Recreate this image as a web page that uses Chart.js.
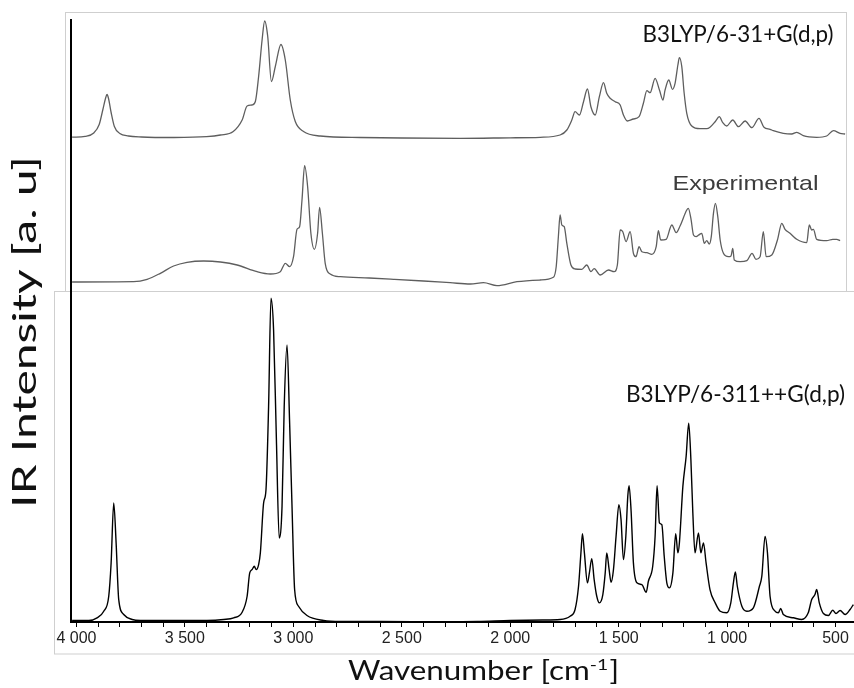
<!DOCTYPE html>
<html>
<head>
<meta charset="utf-8">
<script src="https://cdn.jsdelivr.net/npm/chart.js@4.4.1/dist/chart.umd.min.js"></script>
<style>
html,body{margin:0;padding:0;background:#fff;}
canvas{display:block;}
</style>
</head>
<body>
<canvas id="c" width="854" height="688"></canvas>
<script>
// ---- Data (wavenumber in cm-1, intensity in a.u.) ----
const calc631Wn = [4020,3960,3920,3895,3878,3866,3859,3852,3840,3825,3800,3760,3700,3550,3400,3336,3277,3236,3213,3190,3175,3160,3144,3132,3118,3101,3083,3057,3037,3014,2991,2953,2876,2691,2500,2230,2000,1862,1770,1739,1716,1701,1681,1662,1644,1628,1608,1589,1570,1555,1539,1516,1493,1478,1460,1432,1406,1386,1370,1355,1332,1312,1296,1286,1269,1252,1240,1227,1220,1209,1198,1186,1163,1125,1094,1079,1055,1036,1020,1002,974,948,917,886,853,830,802,787,741,702,679,649,587,541,510,479,456];
const calc631Int = [0.3,1.2,4.5,13,28,39,43,39,25,11,4,1.5,0.5,0,0.8,2.5,6,17.5,31.5,32.5,36,61,97.5,116.5,101,56,71,93,77.5,37.5,16,6,1.5,0,-0.5,-0.8,-0.3,0.2,2.5,7.5,17.5,25.8,22.5,35.8,48.5,30.8,22.5,40.8,54.8,44.2,39.2,35.8,32.5,22.5,16.5,18.5,20.8,34.2,46.8,44.8,59.2,47.5,37.5,47.5,57.5,48.2,54.2,72.5,79.8,70.8,44.2,24.2,11.5,8.8,8.8,10.2,15.8,20.8,14.8,11.5,17.5,10.8,16.5,9.8,19.2,10.2,8.2,6.8,4.2,3.5,5.2,1.8,0.2,1.5,6.8,4.2,3.5];

const exptWn = [4020,3736,3674,3613,3552,3490,3413,3336,3259,3167,3106,3060,3037,3017,2999,2983,2971,2960,2948,2934,2919,2903,2888,2879,2866,2853,2830,2783,2650,2538,2400,2277,2184,2123,2061,1969,1862,1801,1788,1778,1770,1762,1751,1739,1720,1701,1670,1647,1628,1613,1585,1547,1521,1506,1493,1481,1466,1447,1432,1420,1406,1393,1370,1347,1327,1317,1306,1281,1255,1235,1217,1186,1179,1167,1155,1143,1131,1117,1105,1094,1082,1073,1063,1054,1043,1032,1017,994,982,974,967,940,909,885,867,848,833,820,794,768,748,733,710,679,633,621,610,602,587,541,513,495,479];
const exptInt = [0,0.3,2.7,8.7,16,19.7,21,20,17,10.3,8,10.3,18.7,15.3,25.3,52.7,55.3,82,116.3,95.3,48.7,32.7,48.7,74.7,48.7,18.7,8,5.3,4,2.7,1,-0.7,-2,-0.7,-3.7,0.3,2,4.7,15.3,45.3,67,57,55.3,38.7,17,13,12.7,17,10.3,13.3,7,12,10.3,17,52,50.3,40.3,50.3,28.7,25.3,35.3,30.3,29.3,27.7,35.3,51.3,42,42.7,57,49.3,56,72,73.7,63.7,47,45.3,47,48.7,38.7,41.3,38,45.3,68.7,78.7,65.3,42,28.7,25.3,26,33.7,22,20.3,21.3,28.7,22.7,25.3,50.3,25.3,27,42,58.7,52.7,48.7,42.7,39.3,57,52,52.7,42.7,41.3,42.7,42.7,41.3];

const calc6311Wn = [4020,3943,3905,3874,3851,3840,3828,3817,3805,3782,3743,3705,3398,3321,3275,3236,3213,3201,3190,3180,3171,3160,3152,3137,3126,3114,3103,3091,3078,3065,3052,3042,3029,3017,3006,2994,2976,2937,2860,2783,2600,2300,2150,2000,1850,1770,1724,1701,1685,1674,1667,1658,1644,1635,1624,1613,1601,1589,1573,1562,1555,1544,1535,1524,1512,1499,1489,1478,1467,1458,1452,1443,1432,1416,1393,1373,1363,1343,1332,1323,1312,1301,1290,1278,1266,1250,1237,1227,1220,1204,1189,1177,1167,1158,1148,1132,1121,1109,1097,1079,1055,1032,1002,983,971,962,953,932,909,879,851,840,825,814,802,779,764,753,741,695,656,626,610,595,587,575,556,533,513,498,479,456,433,418];
const calc6311Int = [0,0,2.7,9.3,24.3,57.7,117.7,77.7,21,6,1,0,0,1,2.7,8.3,24.3,47.7,51,54.3,51,56,67.7,117.7,131,214.3,322.7,291,181,82.7,114.3,214.3,276,197.7,114.3,31,14.3,5,0,-1,-1,-1.3,-1,0,0.5,1,4.3,11,34.3,67.7,87,67.7,37.7,47.7,62,41,24.3,17.7,26,47.7,67.7,51,38.3,51,84.3,116,101,61,84.3,124.3,135,111,57.7,37.7,36,28.3,39.3,54.3,84.3,135,97.7,96,64.3,37.7,32.7,47.7,87,67.7,77.7,134.3,164.3,197.7,161,107.7,67.7,87.7,67.7,77.7,57.7,31,17.7,9.3,7.7,17.7,37.7,48.7,34.3,14.3,9.3,12.7,34.3,44.3,84.3,67.7,24.3,9.3,7.7,12,6,2.7,1,7.7,21,26,31,17.7,7,5,10.3,7,10,6,11,16];

const majorTicks = [4000,3500,3000,2500,2000,1500,1000,500];
const minorStep = 100;
const seriesNames = ['B3LYP/6-31+G(d,p)', 'Experimental', 'B3LYP/6-311++G(d,p)'];
const xTitleMain = 'Wavenumber [cm';
const xTitleSup = '-1';
const xTitleEnd = ']';
const yTitle = 'IR Intensity [a. u]';

function pairs(wn, val) { return wn.map((w, i) => ({x: w, y: val[i]})); }
function fmtTick(v) {
  if (v >= 1000) { const t = Math.floor(v / 1000); const r = String(v % 1000).padStart(3, '0'); return t + ' ' + r; }
  return String(v);
}
function tickLabel(value) {
  const r = Math.round(Number(value));
  return majorTicks.indexOf(r) >= 0 ? fmtTick(r) : '';
}

function drawFit(ctx, text, font, x, y, width, color) {
  ctx.save();
  ctx.font = font;
  const w = ctx.measureText(text).width;
  ctx.translate(x, y);
  ctx.scale(width / w, 1);
  ctx.fillStyle = color;
  ctx.textAlign = 'left';
  ctx.textBaseline = 'alphabetic';
  ctx.fillText(text, 0, 0);
  ctx.restore();
}

const decor = {
  id: 'decor',
  beforeDraw(chart) {
    const ctx = chart.ctx;
    ctx.save();
    ctx.strokeStyle = '#cfcfcf';
    ctx.lineWidth = 1;
    ctx.strokeRect(54.5, 291.5, 820, 362.5);
    ctx.strokeRect(65.5, 12.5, 781, 279);
    ctx.restore();
  },
  afterDraw(chart) {
    const ctx = chart.ctx;
    drawFit(ctx, seriesNames[0], '23px Lato', 642.5, 41.5, 191, '#111');
    drawFit(ctx, seriesNames[1], '21px "Liberation Sans"', 672.5, 190, 146, '#3c3c3c');
    drawFit(ctx, seriesNames[2], '23px Lato', 626, 401.5, 219, '#111');

    // x title with superscript
    ctx.save();
    const mainFont = '26px Lato', supFont = '16px Lato';
    ctx.font = mainFont; const w1 = ctx.measureText(xTitleMain).width; const w3 = ctx.measureText(xTitleEnd).width;
    ctx.font = supFont; const w2 = ctx.measureText(xTitleSup).width;
    const total = w1 + w2 + w3 + 1;
    ctx.translate(348, 680);
    ctx.scale(271 / total, 1);
    ctx.fillStyle = '#111';
    ctx.textBaseline = 'alphabetic';
    ctx.font = mainFont; ctx.fillText(xTitleMain, 0, 0);
    ctx.font = supFont; ctx.fillText(xTitleSup, w1, -10);
    ctx.font = mainFont; ctx.fillText(xTitleEnd, w1 + w2 + 1, 0);
    ctx.restore();

    // y title rotated
    ctx.save();
    ctx.font = '33px Lato';
    const wy = ctx.measureText(yTitle).width;
    ctx.translate(36, 508);
    ctx.rotate(-Math.PI / 2);
    ctx.scale(352 / wy, 1);
    ctx.fillStyle = '#111';
    ctx.fillText(yTitle, 0, 0);
    ctx.restore();
  }
};

const yCommon = {
  type: 'linear', position: 'left', stack: 'ir', display: true,
  grid: {display: false, drawTicks: false},
  ticks: {display: false},
  border: {display: true, color: '#000', width: 2},
  afterFit(s) { s.width = 0; }
};

new Chart(document.getElementById('c'), {
  type: 'line',
  data: {
    datasets: [
      {label: seriesNames[0], data: pairs(calc631Wn, calc631Int), yAxisID: 'yTop', borderColor: '#5e5e5e', borderWidth: 1.3, pointRadius: 0, cubicInterpolationMode: 'monotone', fill: false},
      {label: seriesNames[1], data: pairs(exptWn, exptInt), yAxisID: 'yMid', borderColor: '#5e5e5e', borderWidth: 1.3, pointRadius: 0, cubicInterpolationMode: 'monotone', fill: false},
      {label: seriesNames[2], data: pairs(calc6311Wn, calc6311Int), yAxisID: 'yBottom', borderColor: '#000', borderWidth: 1.4, pointRadius: 0, cubicInterpolationMode: 'monotone', fill: false}
    ]
  },
  options: {
    responsive: false,
    devicePixelRatio: 1,
    animation: false,
    layout: {padding: {left: 71, top: 20, right: 0, bottom: 0}},
    plugins: {legend: {display: false}, tooltip: {enabled: false}},
    scales: {
      x: {
        type: 'linear', position: 'bottom', reverse: true, min: 415, max: 4025,
        afterBuildTicks(s) {
          const lo = majorTicks[majorTicks.length - 1], hi = majorTicks[0];
          const t = [];
          for (let v = lo; v <= hi; v += minorStep) t.push({value: v});
          s.ticks = t;
        },
        ticks: {
          display: true, autoSkip: false, maxRotation: 0, minRotation: 0, padding: 2,
          font: {family: 'Liberation Sans', size: 16}, color: '#222',
          callback: function (value) { return tickLabel(value); }
        },
        grid: {drawOnChartArea: false, drawTicks: true, tickLength: 5, color: '#000'},
        border: {display: true, color: '#000', width: 2},
        afterFit(s) { s.height = 66; }
      },
      yBottom: Object.assign({}, yCommon, {min: -1.5, max: 329, stackWeight: 330}),
      yMid: Object.assign({}, yCommon, {min: -10, max: 137, stackWeight: 147}),
      yTop: Object.assign({}, yCommon, {min: -7.5, max: 117.5, stackWeight: 125})
    }
  },
  plugins: [decor]
});
</script>
</body>
</html>
